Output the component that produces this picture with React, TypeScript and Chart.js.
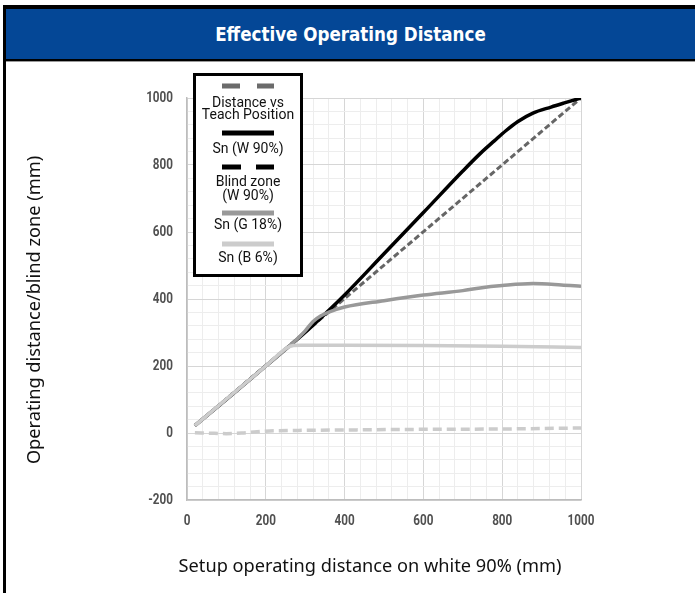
import React, { useEffect, useRef } from "react";
import { Chart, registerables } from "chart.js";

Chart.register(...registerables);

// ---- data ----
const teachX = [20, 1000];
const teachY = [22, 1000];

const w90X = [20, 100, 200, 280, 320, 400, 500, 600, 700, 744, 780, 810, 840, 878, 924, 960, 1000];
const w90Y = [22, 100, 200, 280, 322, 412, 535, 658, 782, 834, 872, 903, 930, 955, 973, 986, 1000];

const blindX = [20, 70, 100, 140, 170, 210, 300, 400, 600, 800, 1000];
const blindY = [1, -1, -2, 0, 3, 6, 8, 9, 11, 12, 15];

const g18X = [20, 200, 270, 300, 320, 340, 360, 400, 500, 600, 700, 744, 800, 878, 950, 1000];
const g18Y = [22, 200, 270, 305, 333, 350, 361, 376, 395, 412, 425, 433, 440, 446, 442, 438];

const b6X = [20, 200, 255, 270, 290, 400, 600, 800, 1000];
const b6Y = [22, 200, 255, 261, 262, 262, 261, 259, 255];

const xTickValues = [0, 200, 400, 600, 800, 1000];
const xTickLabels = ["0", "200", "400", "600", "800", "1000"];
const yTickValues = [-200, 0, 200, 400, 600, 800, 1000];
const yTickLabels = ["-200", "0", "200", "400", "600", "800", "1000"];

const legendLabels = [
  ["Distance vs", "Teach Position"],
  ["Sn (W 90%)"],
  ["Blind zone", "(W 90%)"],
  ["Sn (G 18%)"],
  ["Sn (B 6%)"],
];

const titleText = "Effective Operating Distance";
const xTitle = "Setup operating distance on white 90% (mm)";
const yTitle = "Operating distance/blind zone (mm)";

const pts = (xs: number[], ys: number[]) => xs.map((x, i) => ({ x, y: ys[i] }));

const overlayPlugin = {
  id: "overlay",
  afterDraw(chart: any) {
    const ctx = chart.ctx as CanvasRenderingContext2D;
    const xs = chart.scales.x;
    const ys = chart.scales.y;
    ctx.save();
    // condensed bold tick labels
    ctx.fillStyle = "#505050";
    ctx.font = "bold 15px Roboto, sans-serif";
    ctx.textBaseline = "middle";
    ctx.textAlign = "center";
    xTickValues.forEach((v, i) => {
      ctx.save();
      ctx.translate(xs.getPixelForValue(v), 459.5);
      ctx.scale(0.78, 1);
      ctx.fillText(xTickLabels[i], 0, 0);
      ctx.restore();
    });
    ctx.textAlign = "right";
    yTickValues.forEach((v, i) => {
      ctx.save();
      ctx.translate(167, ys.getPixelForValue(v));
      ctx.scale(0.78, 1);
      ctx.fillText(yTickLabels[i], 0, 0);
      ctx.restore();
    });

    // legend box
    ctx.lineWidth = 3;
    ctx.strokeStyle = "#000";
    ctx.fillStyle = "#fff";
    ctx.fillRect(188.5, 12.5, 107, 201);
    ctx.strokeRect(188.5, 12.5, 107, 201);
    const cx = 242;
    const swY = [24, 71, 105, 151, 182];
    const txY = [[41, 53], [87], [120, 134], [163], [196]];
    const swatches = [
      { color: "#6b6b6b", dash: [18, 17] },
      { color: "#000000", dash: [] },
      { color: "#000000", dash: [19, 15] },
      { color: "#999999", dash: [] },
      { color: "#cccccc", dash: [] },
    ];
    ctx.font = '14px Roboto, "Noto Sans", sans-serif';
    ctx.textAlign = "center";
    ctx.textBaseline = "middle";
    legendLabels.forEach((lines, i) => {
      const s = swatches[i];
      ctx.beginPath();
      ctx.lineWidth = 5;
      ctx.strokeStyle = s.color;
      ctx.setLineDash(s.dash);
      ctx.moveTo(cx - 26, swY[i]);
      ctx.lineTo(cx + 26, swY[i]);
      ctx.stroke();
      ctx.setLineDash([]);
      ctx.fillStyle = "#111";
      lines.forEach((t, j) => ctx.fillText(t, cx, txY[i][j]));
    });
    // axis titles
    ctx.fillStyle = "#111";
    ctx.font = '18.2px "Noto Sans", Roboto, sans-serif';
    ctx.fillText(xTitle, 364, 505);
    ctx.translate(29, 248);
    ctx.rotate(-Math.PI / 2);
    ctx.fillText(yTitle, 0, 0);
    ctx.restore();
  },
};

export default function App() {
  const ref = useRef<HTMLCanvasElement>(null);
  useEffect(() => {
    const grid = (c: any) => (c.tick && c.tick.value % 200 === 0 ? "#d6d6d6" : "#ededed");
    const chart = new Chart(ref.current!, {
      type: "line",
      data: {
        datasets: [
          { label: "Sn (B 6%)", data: pts(b6X, b6Y), borderColor: "#cccccc", borderWidth: 3.5, order: 0 },
          { label: "Sn (G 18%)", data: pts(g18X, g18Y), borderColor: "#999999", borderWidth: 3.5, order: 1 },
          { label: "Sn (W 90%)", data: pts(w90X, w90Y), borderColor: "#000000", borderWidth: 3.5, order: 2 },
          {
            label: "Blind zone (W 90%)",
            data: pts(blindX, blindY),
            borderColor: "#cccccc",
            borderWidth: 3.5,
            borderDash: [9, 5],
            order: 3,
          },
          {
            label: "Distance vs Teach Position",
            data: pts(teachX, teachY),
            borderColor: "#666666",
            borderWidth: 3,
            borderDash: [6, 3],
            order: 4,
          },
        ] as any,
      },
      options: {
        animation: false,
        responsive: false,
        events: [],
        elements: {
          point: { radius: 0 },
          line: { cubicInterpolationMode: "monotone", fill: false },
        },
        layout: { padding: { left: 0, top: 36, right: 114, bottom: 0 } },
        plugins: { legend: { display: false }, tooltip: { enabled: false } },
        scales: {
          x: {
            type: "linear",
            min: 0,
            max: 1000,
            afterFit: (s: any) => {
              s.height = 93;
            },
            ticks: { stepSize: 40, autoSkip: false, display: false },
            grid: { color: grid, drawTicks: false, lineWidth: 1 },
            border: { display: true, color: "#bdbdbd", width: 1.5 },
          },
          y: {
            type: "linear",
            min: -200,
            max: 1000,
            afterFit: (s: any) => {
              s.width = 181;
            },
            ticks: { stepSize: 40, autoSkip: false, display: false },
            grid: { color: grid, drawTicks: false, lineWidth: 1 },
            border: { display: true, color: "#bdbdbd", width: 1.5 },
          },
        },
      } as any,
      plugins: [overlayPlugin],
    });
    return () => chart.destroy();
  }, []);

  return (
    <div style={{ position: "absolute", left: 0, top: 0, width: 695, height: 593, background: "#fff", overflow: "hidden" }}>
      <div style={{ position: "absolute", left: 3, top: 5, width: 692, height: 4, background: "#000" }} />
      <div style={{ position: "absolute", left: 3, top: 5, width: 3, height: 588, background: "#000" }} />
      <div
        style={{
          position: "absolute",
          left: 6,
          top: 9,
          width: 689,
          height: 50,
          background: "#044796",
          color: "#fff",
          display: "flex",
          alignItems: "center",
          justifyContent: "center",
          fontFamily: '"DejaVu Sans", sans-serif',
          fontWeight: "bold",
          fontSize: 18.6,
          fontStretch: "condensed",
        }}
      >
        {titleText}
      </div>
      <div style={{ position: "absolute", left: 6, top: 59, width: 689, height: 2, background: "#000" }} />
      <div style={{ position: "absolute", left: 6, top: 61, width: 689, height: 1, background: "#999" }} />
      <canvas ref={ref} width={689} height={531} style={{ position: "absolute", left: 6, top: 62, width: 689, height: 531 }} />
    </div>
  );
}
